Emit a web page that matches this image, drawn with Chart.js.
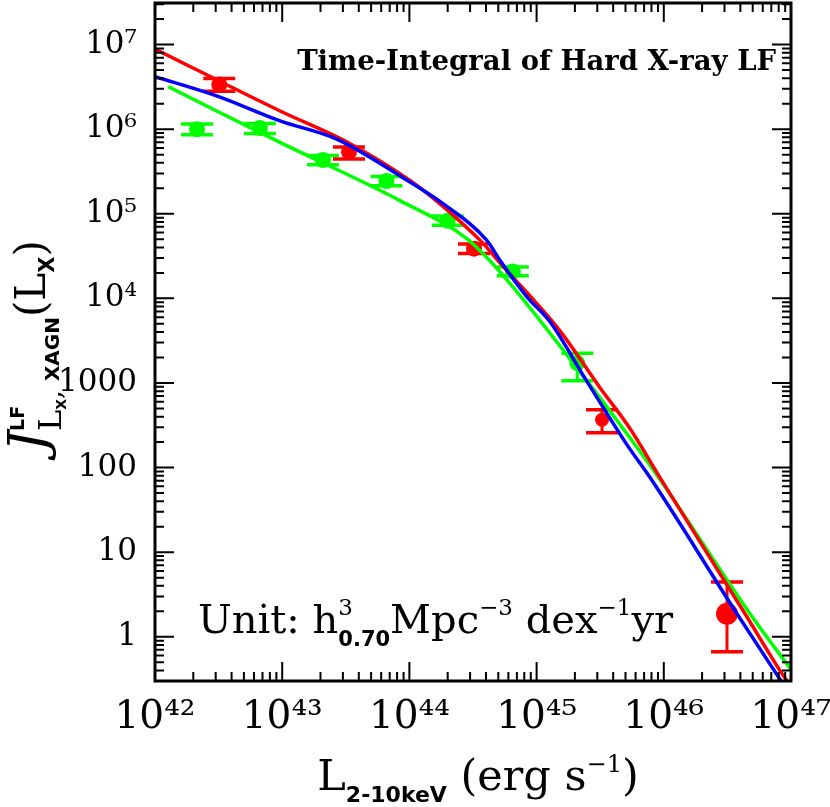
<!DOCTYPE html>
<html>
<head>
<meta charset="utf-8">
<script src="https://cdn.jsdelivr.net/npm/chart.js@4.4.1/dist/chart.umd.min.js"></script>
<style>
  html, body { margin: 0; padding: 0; background: #fff; }
  #wrap { width: 830px; height: 807px; }
</style>
</head>
<body>
<div id="wrap"><canvas id="lfChart" width="830" height="807"></canvas></div>
<script>
// axis ticks
const xTickValues = [1e42, 1e43, 1e44, 1e45, 1e46, 1e47];
const xTickLabels = ["10⁴²", "10⁴³", "10⁴⁴", "10⁴⁵", "10⁴⁶", "10⁴⁷"];
const yTickValues = [1, 10, 100, 1000, 1e4, 1e5, 1e6, 1e7];
const yTickLabels = ["1", "10", "100", "1000", "10⁴", "10⁵", "10⁶", "10⁷"];

// red data points (with error bars)
const redX = [3.2e42, 3.35e43, 3.22e44, 3.27e45, 3.14e46];
const redY = [3.38e6, 5.36e5, 3.87e4, 367, 1.87];
const redYLo = [2.8e6, 4.44e5, 3.39e4, 258, 0.667];
const redYHi = [3.98e6, 6.14e5, 4.4e4, 481, 4.44];
const redSize = [8, 8, 8, 7, 11];

// green data points
const greenX = [2.14e42, 6.68e42, 2.09e43, 6.6e43, 2.0e44, 6.5e44, 2.09e45];
const greenY = [1.0e6, 1.03e6, 4.32e5, 2.44e5, 8.27e4, 2.08e4, 1.72e3];
const greenYLo = [8.6e5, 8.9e5, 3.8e5, 2.15e5, 7.3e4, 1.85e4, 1.06e3];
const greenYHi = [1.15e6, 1.17e6, 4.9e5, 2.75e5, 9.4e4, 2.35e4, 2.25e3];

// model curves
const blueX = [1.0e42, 3.05e42, 9.62e42, 2.68e43, 9.23e43, 1.85e44, 4.06e44, 5.15e44, 8.36e44, 1.27e45, 2.48e45, 5.11e45, 7.80e45, 3.76e46, 7.48e46, 8.51e46];
const blueY = [4.17e6, 2.47e6, 1.25e6, 7.62e5, 2.58e5, 1.31e5, 4.85e4, 2.82e4, 1.05e4, 5.32e3, 1.05e3, 188, 76.2, 1.87, 0.387, 0.288];

const redLineX = [1.0e42, 9.62e42, 3.21e43, 1.01e44, 1.74e44, 3.81e44, 5.15e44, 1.53e45, 3.15e45, 5.42e45, 9.33e45, 4.35e46, 8.49e46, 9.33e46];
const redLineY = [8.87e6, 1.64e6, 7.10e5, 2.47e5, 1.31e5, 4.44e4, 2.63e4, 4.1e3, 880, 290, 76.2, 1.87, 0.367, 0.30];

const greenLineX = [1.27e42, 3.05e42, 9.62e42, 8.43e43, 2.82e44, 5.15e44, 1.73e45, 5.42e45, 9.33e45, 4.76e46, 1.0e47];
const greenLineY = [3.18e6, 1.64e6, 6.98e5, 1.43e5, 5.08e4, 2.06e4, 2.15e3, 225, 72.3, 1.87, 0.41];

const SERIF = '"DejaVu Serif", serif';
const SANS = '"DejaVu Sans", sans-serif';

function pts(xs, ys) {
    return xs.map((x, i) => ({x: x, y: ys[i]}));
}

//error bars drawn under the markers
const errorBars = {
    id: "errorBars",
    beforeDatasetsDraw(chart) {
        const ctx = chart.ctx;
        const x = chart.scales.x, y = chart.scales.y;
        const draw = (xs, lo, hi, color) => {
            ctx.strokeStyle = color;
            xs.forEach((v, i) => {
                const px = x.getPixelForValue(v);
                const y1 = y.getPixelForValue(lo[i]);
                const y2 = y.getPixelForValue(hi[i]);
                ctx.lineWidth = 3;
                ctx.beginPath();
                ctx.moveTo(px, y1); ctx.lineTo(px, y2);
                ctx.stroke();
                ctx.lineWidth = 3.5;
                ctx.beginPath();
                ctx.moveTo(px - 16, y1); ctx.lineTo(px + 16, y1);
                ctx.moveTo(px - 16, y2); ctx.lineTo(px + 16, y2);
                ctx.stroke();
            });
        };
        ctx.save();
        draw(greenX, greenYLo, greenYHi, "#00ff00");
        draw(redX, redYLo, redYHi, "#ff0000");
        ctx.restore();
    }
};

//write a row of text pieces (sub/superscripts via dy)
function runs(ctx, parts, x, y, align) {
    let w = 0;
    parts.forEach(p => {
        ctx.font = p.f;
        p.w = ctx.measureText(p.t).width;
        if (p.adv !== undefined) p.w = p.adv;
        w += p.w;
    });
    let cx = align === "center" ? x - w / 2 : (align === "right" ? x - w : x);
    parts.forEach(p => {
        ctx.font = p.f;
        ctx.fillText(p.t, cx, y + (p.dy || 0));
        cx += p.w;
    });
}

//frame, inward ticks on all sides, titles and labels
const frameAndText = {
    id: "frameAndText",
    afterDraw(chart) {
        const ctx = chart.ctx;
        const a = chart.chartArea;
        const x = chart.scales.x, y = chart.scales.y;
        ctx.save();
        ctx.strokeStyle = "#000";
        ctx.fillStyle = "#000";

        ctx.lineWidth = 2;
        ctx.beginPath();
        for (let e = 42; e < 47; e++) {
            for (let m = 1; m <= 9; m++) {
                const px = x.getPixelForValue(m * Math.pow(10, e));
                const len = m === 1 ? 19 : 9;
                ctx.moveTo(px, a.bottom); ctx.lineTo(px, a.bottom - len);
                ctx.moveTo(px, a.top); ctx.lineTo(px, a.top + len);
            }
        }
        for (let e = -1; e < 8; e++) {
            for (let m = 1; m <= 9; m++) {
                const v = m * Math.pow(10, e);
                if (v < y.min || v > y.max) continue;
                const py = y.getPixelForValue(v);
                const len = m === 1 ? 19 : 9;
                ctx.moveTo(a.left, py); ctx.lineTo(a.left + len, py);
                ctx.moveTo(a.right, py); ctx.lineTo(a.right - len, py);
            }
        }
        ctx.stroke();
        ctx.lineWidth = 3;
        ctx.strokeRect(a.left, a.top, a.right - a.left, a.bottom - a.top);

        ctx.textBaseline = "alphabetic";
        // x axis title
        runs(ctx, [
            {t: "L", f: "43px " + SERIF},
            {t: "2-10keV", f: "bold 22px " + SANS, dy: 12},
            {t: " (erg s", f: "43px " + SERIF},
            {t: "−1", f: "24px " + SERIF, dy: -18},
            {t: ")", f: "43px " + SERIF}
        ], (a.left + a.right) / 2 + 5, 790, "center");

        // y axis title, rotated
        ctx.save();
        ctx.translate(45, (a.top + a.bottom) / 2 + 4);
        ctx.rotate(-Math.PI / 2);
        runs(ctx, [
            {t: "J", f: "italic 52px " + SERIF},
            {t: "LF", f: "bold 19px " + SANS, dy: -21, adv: 0},
            {t: "L", f: "32px " + SERIF, dy: 16},
            {t: "X", f: "bold 14px " + SANS, dy: 21},
            {t: ", ", f: "28px " + SERIF, dy: 16},
            {t: "XAGN", f: "bold 20px " + SANS, dy: 14},
            {t: "(L", f: "42px " + SERIF},
            {t: "X", f: "bold 21px " + SANS, dy: 9},
            {t: ")", f: "42px " + SERIF}
        ], 0, 0, "center");
        ctx.restore();

        // annotations inside the plot
        runs(ctx, [
            {t: "Time-Integral of Hard X-ray LF", f: "bold 27.5px " + SERIF}
        ], 776, 70, "right");

        runs(ctx, [
            {t: "Unit: h", f: "40px " + SERIF},
            {t: "3", f: "23px " + SERIF, dy: -18, adv: 0},
            {t: "0.70", f: "bold 21px " + SANS, dy: 13},
            {t: "Mpc", f: "40px " + SERIF},
            {t: "−3", f: "23px " + SERIF, dy: -18},
            {t: " dex", f: "40px " + SERIF},
            {t: "−1", f: "23px " + SERIF, dy: -18},
            {t: "yr", f: "40px " + SERIF}
        ], 198, 633, "left");
        ctx.restore();
    }
};

const chartContext = document.getElementById("lfChart").getContext("2d");
const myChart = new Chart(chartContext, {
    type: "scatter",
    data: {
        datasets: [
            {label: "model blue", data: pts(blueX, blueY), showLine: true, borderColor: "#0000ff", borderWidth: 3.5, pointRadius: 0, cubicInterpolationMode: "monotone"},
            {label: "model red", data: pts(redLineX, redLineY), showLine: true, borderColor: "#ff0000", borderWidth: 3.5, pointRadius: 0, cubicInterpolationMode: "monotone"},
            {label: "model green", data: pts(greenLineX, greenLineY), showLine: true, borderColor: "#00ff00", borderWidth: 3.5, pointRadius: 0, cubicInterpolationMode: "monotone"},
            {label: "red data", data: pts(redX, redY), showLine: false, pointRadius: redSize, pointHoverRadius: 0, pointBackgroundColor: "#ff0000", pointBorderWidth: 0},
            {label: "green data", data: pts(greenX, greenY), showLine: false, pointRadius: 8, pointHoverRadius: 0, pointBackgroundColor: "#00ff00", pointBorderWidth: 0}
        ]
    },
    options: {
        responsive: false,
        animation: false,
        devicePixelRatio: 1,
        layout: {autoPadding: false, padding: {top: 3, right: 39, left: 0, bottom: 0}},
        plugins: {legend: {display: false}, tooltip: {enabled: false}},
        scales: {
            x: {
                type: "logarithmic",
                min: 1e42,
                max: 1e47,
                grid: {display: false, drawTicks: false},
                border: {display: false},
                afterBuildTicks: s => { s.ticks = xTickValues.map(v => ({value: v})); },
                afterFit: s => { s.height = 126; s.paddingLeft = 0; s.paddingRight = 0; },
                ticks: {
                    callback: (v, i) => xTickLabels[i],
                    font: {family: SERIF, size: 39},
                    color: "#000",
                    padding: 13,
                    maxRotation: 0,
                    autoSkip: false
                }
            },
            y: {
                type: "logarithmic",
                min: 0.33,
                max: 3.1e7,
                grid: {display: false, drawTicks: false},
                border: {display: false},
                afterBuildTicks: s => { s.ticks = yTickValues.map(v => ({value: v})); },
                afterFit: s => { s.width = 155; s.paddingTop = 0; s.paddingBottom = 0; },
                ticks: {
                    callback: (v, i) => yTickLabels[i],
                    font: {family: SERIF, size: 31},
                    color: "#000",
                    padding: 18,
                    autoSkip: false
                }
            }
        }
    },
    plugins: [errorBars, frameAndText]
});
</script>
</body>
</html>
